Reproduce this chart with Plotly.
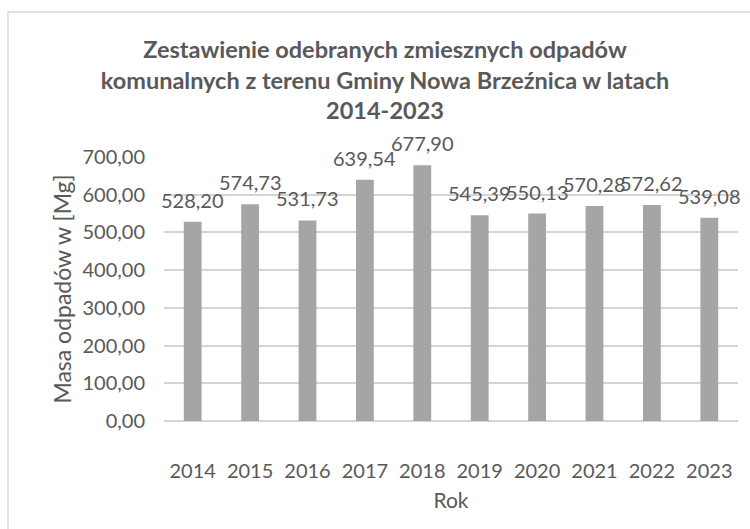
import plotly.graph_objects as go

years = ["2014", "2015", "2016", "2017", "2018", "2019", "2020", "2021", "2022", "2023"]
values = [528.20, 574.73, 531.73, 639.54, 677.90, 545.39, 550.13, 570.28, 572.62, 539.08]
y_ticks = [0, 100, 200, 300, 400, 500, 600, 700]

def pl(v):
    return f"{v:.2f}".replace(".", ",")

FONT = "Lato"
TXT = "#595959"

fig = go.Figure(go.Bar(
    x=years, y=values,
    marker=dict(color="#a5a5a5", line=dict(width=0)),
    cliponaxis=False,
))

for i, v in enumerate(values):
    fig.add_annotation(
        x=i, y=v, text=pl(v), showarrow=False,
        xanchor="center", yanchor="bottom", yshift=8,
        font=dict(family=FONT, size=20, color=TXT),
    )

L, R, T, B = 164, 12, 157, 108
fig.update_layout(
    width=750, height=529,
    margin=dict(l=L, r=R, t=T, b=B),
    paper_bgcolor="white", plot_bgcolor="white",
    bargap=0.69,
    showlegend=False,
    title=dict(
        text="Zestawienie odebranych zmiesznych odpadów<br>komunalnych z terenu Gminy Nowa Brzeźnica w latach<br>2014-2023",
        x=385 / 750, xanchor="center", xref="container",
        y=1 - 58 / 529, yanchor="top", yref="container",
        font=dict(family=FONT, size=23.5, color=TXT, weight="bold"),
    ),
    xaxis=dict(
        type="category",
        range=[-0.5, len(years) - 0.5],
        tickfont=dict(family=FONT, size=20, color=TXT),
        showline=False, showgrid=False, ticks="",
        ticklabelstandoff=36,
        title=dict(text="Rok", font=dict(family=FONT, size=21, color=TXT), standoff=12),
    ),
    yaxis=dict(
        range=[0, 700],
        tickvals=y_ticks,
        ticktext=[pl(v) for v in y_ticks],
        tickfont=dict(family=FONT, size=20, color=TXT),
        showgrid=True, gridcolor="#d4d4d4", gridwidth=1.5,
        zeroline=True, zerolinecolor="#d4d4d4", zerolinewidth=1.5,
        showline=False, ticks="", ticklen=0,
        ticklabelstandoff=18,
        title=dict(text="Masa odpadów w [Mg]", font=dict(family=FONT, size=23, color=TXT), standoff=4),
    ),
    shapes=[dict(
        type="rect", xref="paper", yref="paper",
        x0=(8 - L) / (750 - L - R), x1=(760 - L) / (750 - L - R),
        y0=(529 - B - 540) / (529 - T - B), y1=(529 - B - 12) / (529 - T - B),
        line=dict(color="#d9d9d9", width=1.5), fillcolor="rgba(0,0,0,0)", layer="below",
    )],
)

fig.write_html("out.html")
